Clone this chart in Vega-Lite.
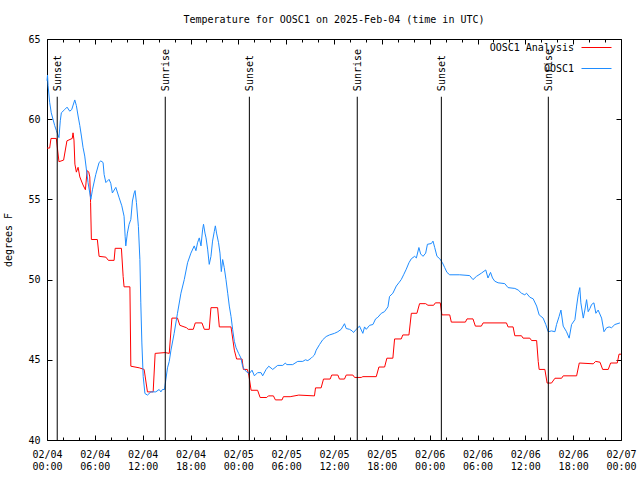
{
  "$schema": "https://vega.github.io/schema/vega-lite/v6.json",
  "width": 574,
  "height": 401,
  "autosize": "none",
  "padding": {"left": 47, "top": 39, "right": 19, "bottom": 40},
  "background": "white",
  "title": {"text": "Temperature for OOSC1 on 2025-Feb-04 (time in UTC)", "font": "DejaVu Sans Mono", "fontSize": 10, "fontWeight": "normal", "color": "black", "offset": 7, "anchor": "middle"},
  "config": {
    "view": {"stroke": "black", "strokeWidth": 1},
    "axis": {"labelFont": "DejaVu Sans Mono", "labelFontSize": 10, "labelColor": "black", "titleFont": "DejaVu Sans Mono", "titleFontSize": 10, "titleFontWeight": "normal", "titleColor": "black", "grid": false, "domain": false, "tickColor": "black", "tickWidth": 1, "labelFlush": false, "labelOverlap": false, "labelBound": false}
  },
  "datasets": {
    "analysis": [
      {"t":"2025-02-04 00:00","v":58.2},{"t":"2025-02-04 00:20","v":58.2},{"t":"2025-02-04 00:30","v":58.8},{"t":"2025-02-04 01:10","v":58.8},{"t":"2025-02-04 01:30","v":57.35},{"t":"2025-02-04 02:05","v":57.45},{"t":"2025-02-04 02:30","v":58.65},{"t":"2025-02-04 03:10","v":58.8},{"t":"2025-02-04 03:16","v":59.15},{"t":"2025-02-04 03:23","v":58.7},{"t":"2025-02-04 03:30","v":57.2},{"t":"2025-02-04 03:41","v":56.7},{"t":"2025-02-04 03:54","v":57.0},{"t":"2025-02-04 04:07","v":56.4},{"t":"2025-02-04 04:31","v":55.9},{"t":"2025-02-04 04:49","v":55.6},{"t":"2025-02-04 05:02","v":56.8},{"t":"2025-02-04 05:14","v":56.7},{"t":"2025-02-04 05:22","v":56.4},{"t":"2025-02-04 05:28","v":54.8},{"t":"2025-02-04 05:34","v":52.5},{"t":"2025-02-04 06:19","v":52.5},{"t":"2025-02-04 06:32","v":51.45},{"t":"2025-02-04 07:23","v":51.4},{"t":"2025-02-04 07:42","v":51.2},{"t":"2025-02-04 08:25","v":51.2},{"t":"2025-02-04 08:33","v":51.95},{"t":"2025-02-04 09:20","v":51.95},{"t":"2025-02-04 09:33","v":50.2},{"t":"2025-02-04 09:40","v":49.55},{"t":"2025-02-04 10:24","v":49.55},{"t":"2025-02-04 10:31","v":44.6},{"t":"2025-02-04 11:34","v":44.5},{"t":"2025-02-04 12:11","v":44.4},{"t":"2025-02-04 12:36","v":43.0},{"t":"2025-02-04 13:19","v":43.0},{"t":"2025-02-04 13:34","v":45.4},{"t":"2025-02-04 14:50","v":45.45},{"t":"2025-02-04 15:20","v":45.4},{"t":"2025-02-04 15:40","v":47.6},{"t":"2025-02-04 16:22","v":47.6},{"t":"2025-02-04 16:40","v":47.15},{"t":"2025-02-04 17:30","v":47.0},{"t":"2025-02-04 17:43","v":46.9},{"t":"2025-02-04 18:21","v":46.9},{"t":"2025-02-04 18:36","v":47.3},{"t":"2025-02-04 19:26","v":47.3},{"t":"2025-02-04 19:44","v":46.9},{"t":"2025-02-04 20:21","v":46.9},{"t":"2025-02-04 20:34","v":48.25},{"t":"2025-02-04 21:24","v":48.25},{"t":"2025-02-04 21:37","v":47.05},{"t":"2025-02-04 23:05","v":47.05},{"t":"2025-02-04 23:30","v":45.6},{"t":"2025-02-04 23:47","v":45.05},
      {"t":"2025-02-05 00:28","v":45.05},{"t":"2025-02-05 00:38","v":44.4},{"t":"2025-02-05 01:08","v":44.4},{"t":"2025-02-05 01:19","v":44.05},{"t":"2025-02-05 01:36","v":43.1},{"t":"2025-02-05 02:25","v":43.1},{"t":"2025-02-05 02:44","v":42.65},{"t":"2025-02-05 03:34","v":42.65},{"t":"2025-02-05 03:46","v":42.75},{"t":"2025-02-05 04:24","v":42.75},{"t":"2025-02-05 04:39","v":42.5},{"t":"2025-02-05 05:29","v":42.5},{"t":"2025-02-05 05:39","v":42.7},{"t":"2025-02-05 06:30","v":42.7},{"t":"2025-02-05 07:35","v":42.8},{"t":"2025-02-05 09:33","v":42.75},{"t":"2025-02-05 09:41","v":43.25},{"t":"2025-02-05 10:23","v":43.25},{"t":"2025-02-05 10:41","v":43.8},{"t":"2025-02-05 11:31","v":43.8},{"t":"2025-02-05 11:43","v":44.05},{"t":"2025-02-05 12:29","v":44.05},{"t":"2025-02-05 12:41","v":43.8},{"t":"2025-02-05 13:19","v":43.8},{"t":"2025-02-05 13:32","v":44.05},{"t":"2025-02-05 14:22","v":44.05},{"t":"2025-02-05 14:35","v":43.9},{"t":"2025-02-05 15:25","v":43.9},{"t":"2025-02-05 15:37","v":43.95},{"t":"2025-02-05 17:18","v":43.95},{"t":"2025-02-05 17:38","v":44.55},{"t":"2025-02-05 18:21","v":44.55},{"t":"2025-02-05 18:38","v":45.1},{"t":"2025-02-05 19:23","v":45.1},{"t":"2025-02-05 19:36","v":46.3},{"t":"2025-02-05 20:26","v":46.3},{"t":"2025-02-05 20:38","v":46.55},{"t":"2025-02-05 21:24","v":46.55},{"t":"2025-02-05 21:42","v":47.9},{"t":"2025-02-05 22:24","v":47.9},{"t":"2025-02-05 22:44","v":48.5},{"t":"2025-02-05 23:30","v":48.5},{"t":"2025-02-05 23:47","v":48.4},
      {"t":"2025-02-06 00:30","v":48.4},{"t":"2025-02-06 00:43","v":48.55},{"t":"2025-02-06 01:20","v":48.55},{"t":"2025-02-06 01:32","v":47.8},{"t":"2025-02-06 02:31","v":47.8},{"t":"2025-02-06 02:43","v":47.35},{"t":"2025-02-06 04:29","v":47.35},{"t":"2025-02-06 04:41","v":47.55},{"t":"2025-02-06 05:26","v":47.55},{"t":"2025-02-06 05:44","v":47.1},{"t":"2025-02-06 06:29","v":47.1},{"t":"2025-02-06 06:42","v":47.3},{"t":"2025-02-06 09:38","v":47.3},{"t":"2025-02-06 09:50","v":47.05},{"t":"2025-02-06 10:28","v":47.05},{"t":"2025-02-06 10:41","v":46.5},{"t":"2025-02-06 11:31","v":46.5},{"t":"2025-02-06 11:43","v":46.35},{"t":"2025-02-06 12:34","v":46.35},{"t":"2025-02-06 12:47","v":46.2},{"t":"2025-02-06 13:25","v":46.2},{"t":"2025-02-06 13:37","v":44.9},{"t":"2025-02-06 13:44","v":44.4},{"t":"2025-02-06 14:27","v":44.4},{"t":"2025-02-06 14:44","v":43.55},{"t":"2025-02-06 15:17","v":43.55},{"t":"2025-02-06 15:43","v":43.85},{"t":"2025-02-06 16:33","v":43.85},{"t":"2025-02-06 16:45","v":44.0},{"t":"2025-02-06 18:26","v":44.0},{"t":"2025-02-06 18:46","v":44.8},{"t":"2025-02-06 20:31","v":44.75},{"t":"2025-02-06 20:49","v":44.9},{"t":"2025-02-06 21:22","v":44.85},{"t":"2025-02-06 21:42","v":44.4},{"t":"2025-02-06 22:24","v":44.4},{"t":"2025-02-06 22:42","v":44.8},{"t":"2025-02-06 23:32","v":44.8},{"t":"2025-02-06 23:45","v":45.35},{"t":"2025-02-07 00:00","v":45.35}
    ],
    "obs": [
      {"t":"2025-02-04 00:00","v":62.4},{"t":"2025-02-04 00:04","v":62.75},{"t":"2025-02-04 00:08","v":62.1},{"t":"2025-02-04 00:20","v":61.05},{"t":"2025-02-04 00:32","v":60.4},{"t":"2025-02-04 00:45","v":60.0},{"t":"2025-02-04 00:58","v":59.6},{"t":"2025-02-04 01:10","v":59.3},{"t":"2025-02-04 01:30","v":58.85},{"t":"2025-02-04 01:40","v":59.9},{"t":"2025-02-04 01:48","v":60.4},{"t":"2025-02-04 02:13","v":60.6},{"t":"2025-02-04 02:31","v":60.75},{"t":"2025-02-04 02:51","v":60.5},{"t":"2025-02-04 03:06","v":60.6},{"t":"2025-02-04 03:29","v":61.2},{"t":"2025-02-04 03:41","v":60.85},{"t":"2025-02-04 03:54","v":60.2},{"t":"2025-02-04 04:07","v":59.6},{"t":"2025-02-04 04:19","v":58.95},{"t":"2025-02-04 04:31","v":58.25},{"t":"2025-02-04 04:44","v":57.7},{"t":"2025-02-04 04:56","v":56.9},{"t":"2025-02-04 05:09","v":56.05},{"t":"2025-02-04 05:22","v":55.4},{"t":"2025-02-04 05:30","v":55.0},{"t":"2025-02-04 05:42","v":55.6},{"t":"2025-02-04 06:07","v":56.55},{"t":"2025-02-04 06:32","v":57.3},{"t":"2025-02-04 06:45","v":57.4},{"t":"2025-02-04 07:02","v":57.3},{"t":"2025-02-04 07:10","v":56.55},{"t":"2025-02-04 07:23","v":56.05},{"t":"2025-02-04 07:47","v":56.25},{"t":"2025-02-04 08:00","v":56.0},{"t":"2025-02-04 08:12","v":55.4},{"t":"2025-02-04 08:38","v":55.75},{"t":"2025-02-04 09:03","v":55.1},{"t":"2025-02-04 09:23","v":54.6},{"t":"2025-02-04 09:40","v":53.95},{"t":"2025-02-04 09:48","v":52.7},{"t":"2025-02-04 09:53","v":52.1},{"t":"2025-02-04 10:05","v":52.9},{"t":"2025-02-04 10:18","v":53.45},{"t":"2025-02-04 10:31","v":53.75},{"t":"2025-02-04 10:43","v":54.9},{"t":"2025-02-04 10:56","v":55.4},{"t":"2025-02-04 11:03","v":55.55},{"t":"2025-02-04 11:13","v":54.8},{"t":"2025-02-04 11:28","v":53.3},{"t":"2025-02-04 11:39","v":51.25},{"t":"2025-02-04 11:46","v":48.55},{"t":"2025-02-04 11:54","v":46.05},{"t":"2025-02-04 12:04","v":43.95},{"t":"2025-02-04 12:17","v":42.9},{"t":"2025-02-04 12:36","v":42.8},{"t":"2025-02-04 13:02","v":43.0},{"t":"2025-02-04 13:39","v":43.0},{"t":"2025-02-04 14:04","v":43.15},{"t":"2025-02-04 14:17","v":43.0},{"t":"2025-02-04 14:29","v":43.15},{"t":"2025-02-04 14:44","v":43.15},{"t":"2025-02-04 14:55","v":43.8},{"t":"2025-02-04 15:07","v":44.5},{"t":"2025-02-04 15:20","v":44.9},{"t":"2025-02-04 15:33","v":45.6},{"t":"2025-02-04 15:57","v":46.65},{"t":"2025-02-04 16:22","v":47.9},{"t":"2025-02-04 16:48","v":49.15},{"t":"2025-02-04 17:13","v":50.0},{"t":"2025-02-04 17:38","v":51.05},{"t":"2025-02-04 18:03","v":51.65},{"t":"2025-02-04 18:28","v":52.1},{"t":"2025-02-04 18:41","v":51.8},{"t":"2025-02-04 18:53","v":52.3},{"t":"2025-02-04 19:06","v":52.6},{"t":"2025-02-04 19:19","v":52.1},{"t":"2025-02-04 19:31","v":53.1},{"t":"2025-02-04 19:38","v":53.45},{"t":"2025-02-04 19:49","v":52.9},{"t":"2025-02-04 19:57","v":52.6},{"t":"2025-02-04 20:09","v":51.9},{"t":"2025-02-04 20:21","v":50.95},{"t":"2025-02-04 20:34","v":51.45},{"t":"2025-02-04 20:46","v":52.4},{"t":"2025-02-04 20:59","v":53.0},{"t":"2025-02-04 21:07","v":53.35},{"t":"2025-02-04 21:16","v":52.9},{"t":"2025-02-04 21:31","v":52.3},{"t":"2025-02-04 21:42","v":51.65},{"t":"2025-02-04 21:52","v":50.5},{"t":"2025-02-04 22:02","v":51.25},{"t":"2025-02-04 22:14","v":50.75},{"t":"2025-02-04 22:27","v":50.0},{"t":"2025-02-04 22:40","v":49.15},{"t":"2025-02-04 22:52","v":48.35},{"t":"2025-02-04 23:05","v":47.7},{"t":"2025-02-04 23:17","v":46.9},{"t":"2025-02-04 23:30","v":46.15},{"t":"2025-02-04 23:43","v":45.75},
      {"t":"2025-02-05 00:02","v":45.4},{"t":"2025-02-05 00:20","v":45.1},{"t":"2025-02-05 00:32","v":44.6},{"t":"2025-02-05 00:45","v":44.4},{"t":"2025-02-05 01:02","v":44.25},{"t":"2025-02-05 01:23","v":44.15},{"t":"2025-02-05 01:43","v":44.35},{"t":"2025-02-05 02:01","v":44.0},{"t":"2025-02-05 02:25","v":44.2},{"t":"2025-02-05 02:51","v":44.2},{"t":"2025-02-05 03:03","v":44.0},{"t":"2025-02-05 03:29","v":44.4},{"t":"2025-02-05 03:49","v":44.6},{"t":"2025-02-05 04:19","v":44.4},{"t":"2025-02-05 04:56","v":44.65},{"t":"2025-02-05 05:34","v":44.65},{"t":"2025-02-05 05:54","v":44.8},{"t":"2025-02-05 06:04","v":44.7},{"t":"2025-02-05 06:49","v":44.7},{"t":"2025-02-05 07:27","v":44.9},{"t":"2025-02-05 08:05","v":44.9},{"t":"2025-02-05 08:25","v":45.0},{"t":"2025-02-05 08:43","v":44.95},{"t":"2025-02-05 09:08","v":45.1},{"t":"2025-02-05 09:20","v":45.2},{"t":"2025-02-05 09:33","v":45.3},{"t":"2025-02-05 09:46","v":45.6},{"t":"2025-02-05 10:11","v":45.95},{"t":"2025-02-05 10:35","v":46.25},{"t":"2025-02-05 11:01","v":46.45},{"t":"2025-02-05 11:26","v":46.55},{"t":"2025-02-05 12:04","v":46.65},{"t":"2025-02-05 12:29","v":46.75},{"t":"2025-02-05 12:54","v":46.9},{"t":"2025-02-05 13:19","v":47.25},{"t":"2025-02-05 13:32","v":46.95},{"t":"2025-02-05 13:57","v":46.9},{"t":"2025-02-05 14:17","v":46.8},{"t":"2025-02-05 14:27","v":46.7},{"t":"2025-02-05 14:47","v":46.9},{"t":"2025-02-05 15:12","v":47.1},{"t":"2025-02-05 15:37","v":46.65},{"t":"2025-02-05 15:50","v":47.05},{"t":"2025-02-05 16:03","v":46.9},{"t":"2025-02-05 16:28","v":47.15},{"t":"2025-02-05 16:53","v":47.2},{"t":"2025-02-05 17:13","v":47.55},{"t":"2025-02-05 17:30","v":47.65},{"t":"2025-02-05 17:56","v":47.9},{"t":"2025-02-05 18:20","v":48.0},{"t":"2025-02-05 18:46","v":48.3},{"t":"2025-02-05 18:58","v":48.95},{"t":"2025-02-05 19:23","v":49.15},{"t":"2025-02-05 19:49","v":49.6},{"t":"2025-02-05 20:08","v":49.8},{"t":"2025-02-05 20:26","v":50.0},{"t":"2025-02-05 20:44","v":50.3},{"t":"2025-02-05 21:04","v":50.65},{"t":"2025-02-05 21:24","v":51.05},{"t":"2025-02-05 21:42","v":51.3},{"t":"2025-02-05 22:07","v":51.45},{"t":"2025-02-05 22:20","v":51.35},{"t":"2025-02-05 22:39","v":52.0},{"t":"2025-02-05 22:52","v":51.6},{"t":"2025-02-05 23:10","v":51.45},{"t":"2025-02-05 23:30","v":51.65},{"t":"2025-02-05 23:43","v":52.2},
      {"t":"2025-02-06 00:13","v":52.25},{"t":"2025-02-06 00:25","v":52.4},{"t":"2025-02-06 00:38","v":52.0},{"t":"2025-02-06 00:55","v":51.45},{"t":"2025-02-06 01:16","v":51.3},{"t":"2025-02-06 01:36","v":51.05},{"t":"2025-02-06 01:53","v":50.75},{"t":"2025-02-06 02:10","v":50.45},{"t":"2025-02-06 02:31","v":50.3},{"t":"2025-02-06 03:46","v":50.3},{"t":"2025-02-06 05:01","v":50.25},{"t":"2025-02-06 05:26","v":50.0},{"t":"2025-02-06 05:52","v":50.2},{"t":"2025-02-06 06:29","v":50.4},{"t":"2025-02-06 07:02","v":50.6},{"t":"2025-02-06 07:19","v":50.1},{"t":"2025-02-06 07:38","v":50.45},{"t":"2025-02-06 07:53","v":50.1},{"t":"2025-02-06 08:10","v":49.9},{"t":"2025-02-06 08:35","v":49.8},{"t":"2025-02-06 09:25","v":49.75},{"t":"2025-02-06 09:50","v":49.5},{"t":"2025-02-06 10:41","v":49.45},{"t":"2025-02-06 11:06","v":49.35},{"t":"2025-02-06 11:31","v":49.15},{"t":"2025-02-06 11:56","v":49.05},{"t":"2025-02-06 12:09","v":49.15},{"t":"2025-02-06 12:34","v":48.9},{"t":"2025-02-06 12:59","v":48.8},{"t":"2025-02-06 13:25","v":48.35},{"t":"2025-02-06 13:44","v":47.8},{"t":"2025-02-06 14:14","v":47.6},{"t":"2025-02-06 14:34","v":47.2},{"t":"2025-02-06 14:52","v":46.75},{"t":"2025-02-06 15:17","v":46.8},{"t":"2025-02-06 15:43","v":46.75},{"t":"2025-02-06 15:55","v":47.2},{"t":"2025-02-06 16:14","v":47.7},{"t":"2025-02-06 16:28","v":48.1},{"t":"2025-02-06 16:45","v":47.1},{"t":"2025-02-06 17:10","v":46.75},{"t":"2025-02-06 17:30","v":46.35},{"t":"2025-02-06 17:48","v":47.2},{"t":"2025-02-06 18:13","v":47.5},{"t":"2025-02-06 18:26","v":48.35},{"t":"2025-02-06 18:38","v":49.05},{"t":"2025-02-06 18:50","v":49.5},{"t":"2025-02-06 18:58","v":48.55},{"t":"2025-02-06 19:16","v":47.6},{"t":"2025-02-06 19:28","v":48.1},{"t":"2025-02-06 19:41","v":48.75},{"t":"2025-02-06 19:53","v":48.0},{"t":"2025-02-06 20:06","v":48.2},{"t":"2025-02-06 20:19","v":48.45},{"t":"2025-02-06 20:36","v":48.55},{"t":"2025-02-06 20:51","v":47.9},{"t":"2025-02-06 21:08","v":48.1},{"t":"2025-02-06 21:34","v":47.6},{"t":"2025-02-06 21:52","v":46.75},{"t":"2025-02-06 22:12","v":47.0},{"t":"2025-02-06 22:31","v":47.05},{"t":"2025-02-06 22:49","v":47.0},{"t":"2025-02-06 23:14","v":47.2},{"t":"2025-02-06 23:52","v":47.3}
    ]
  },
  "layer": [
    {
      "data": {"name": "analysis", "format": {"parse": {"t": "utc:'%Y-%m-%d %H:%M'"}}},
      "mark": {"type": "line", "strokeWidth": 1},
      "encoding": {
        "x": {"field": "t", "type": "temporal", "scale": {"type": "utc", "domain": [1738627200000, 1738886400000]},
          "axis": {"orient": "bottom", "title": null, "offset": -5, "tickSize": 5, "labelPadding": 9, "values": [1738627200000,1738648800000,1738670400000,1738692000000,1738713600000,1738735200000,1738756800000,1738778400000,1738800000000,1738821600000,1738843200000,1738864800000,1738886400000],
            "labelExpr": "[utcFormat(datum.value, '%m/%d'), utcFormat(datum.value, '%H:%M')]", "labelLineHeight": 12, "labelBaseline": "top", "labelAlign": "center"}},
        "y": {"field": "v", "type": "quantitative", "scale": {"domain": [40, 65], "nice": false, "zero": false},
          "axis": {"orient": "left", "title": "degrees F", "offset": -5, "tickSize": 5, "labelPadding": 7, "titlePadding": 14, "values": [40, 45, 50, 55, 60, 65]}},
        "color": {"datum": "OOSC1 Analysis", "type": "nominal", "scale": {"domain": ["OOSC1 Analysis", "OOSC1"], "range": ["#ff0000", "#1e8cff"]},
          "legend": {"orient": "none", "legendX": 534, "legendY": -7, "title": null, "symbolType": "stroke", "symbolSize": 900, "symbolStrokeWidth": 1, "labelAlign": "right", "labelOffset": -38, "labelFont": "DejaVu Sans Mono", "labelFontSize": 10, "labelColor": "black", "padding": 0, "rowPadding": 0}}
      }
    },
    {
      "data": {"name": "obs", "format": {"parse": {"t": "utc:'%Y-%m-%d %H:%M'"}}},
      "mark": {"type": "line", "strokeWidth": 1},
      "encoding": {
        "x": {"field": "t", "type": "temporal",
          "axis": {"orient": "top", "title": null, "labels": false, "offset": -5, "tickSize": 5, "values": [1738627200000,1738648800000,1738670400000,1738692000000,1738713600000,1738735200000,1738756800000,1738778400000,1738800000000,1738821600000,1738843200000,1738864800000,1738886400000]}},
        "y": {"field": "v", "type": "quantitative",
          "axis": {"orient": "right", "title": null, "labels": false, "offset": -5, "tickSize": 5, "values": [40, 45, 50, 55, 60, 65]}},
        "color": {"datum": "OOSC1", "type": "nominal"}
      }
    },
    {
      "data": {"values": [
        {"t":"2025-02-04 01:17","label":"Sunset"},
        {"t":"2025-02-04 14:50","label":"Sunrise"},
        {"t":"2025-02-05 01:23","label":"Sunset"},
        {"t":"2025-02-05 14:55","label":"Sunrise"},
        {"t":"2025-02-06 01:28","label":"Sunset"},
        {"t":"2025-02-06 14:53","label":"Sunrise"}
      ], "format": {"parse": {"t": "utc:'%Y-%m-%d %H:%M'"}}},
      "layer": [
        {"mark": {"type": "rule", "color": "black", "strokeWidth": 1},
         "encoding": {
           "x": {"field": "t", "type": "temporal", "axis": {"orient": "bottom", "title": null, "labels": false, "offset": -3, "tickSize": 3, "values": [1738634400000,1738641600000,1738656000000,1738663200000,1738677600000,1738684800000,1738699200000,1738706400000,1738720800000,1738728000000,1738742400000,1738749600000,1738764000000,1738771200000,1738785600000,1738792800000,1738807200000,1738814400000,1738828800000,1738836000000,1738850400000,1738857600000,1738872000000,1738879200000]}},
           "y": {"datum": 40, "axis": {"orient": "left", "title": null, "labels": false, "ticks": false, "values": [40]}},
           "y2": {"datum": 61.4}}},
        {"mark": {"type": "text", "angle": 270, "align": "left", "baseline": "middle", "dy": 1, "font": "DejaVu Sans Mono", "fontSize": 10, "color": "black"},
         "encoding": {
           "x": {"field": "t", "type": "temporal", "axis": {"orient": "top", "title": null, "labels": false, "offset": -3, "tickSize": 3, "values": [1738634400000,1738641600000,1738656000000,1738663200000,1738677600000,1738684800000,1738699200000,1738706400000,1738720800000,1738728000000,1738742400000,1738749600000,1738764000000,1738771200000,1738785600000,1738792800000,1738807200000,1738814400000,1738828800000,1738836000000,1738850400000,1738857600000,1738872000000,1738879200000]}},
           "y": {"datum": 61.75, "axis": {"orient": "left", "title": null, "labels": false, "ticks": false, "values": [40]}},
           "text": {"field": "label"}}}
      ]
    }
  ]
}
